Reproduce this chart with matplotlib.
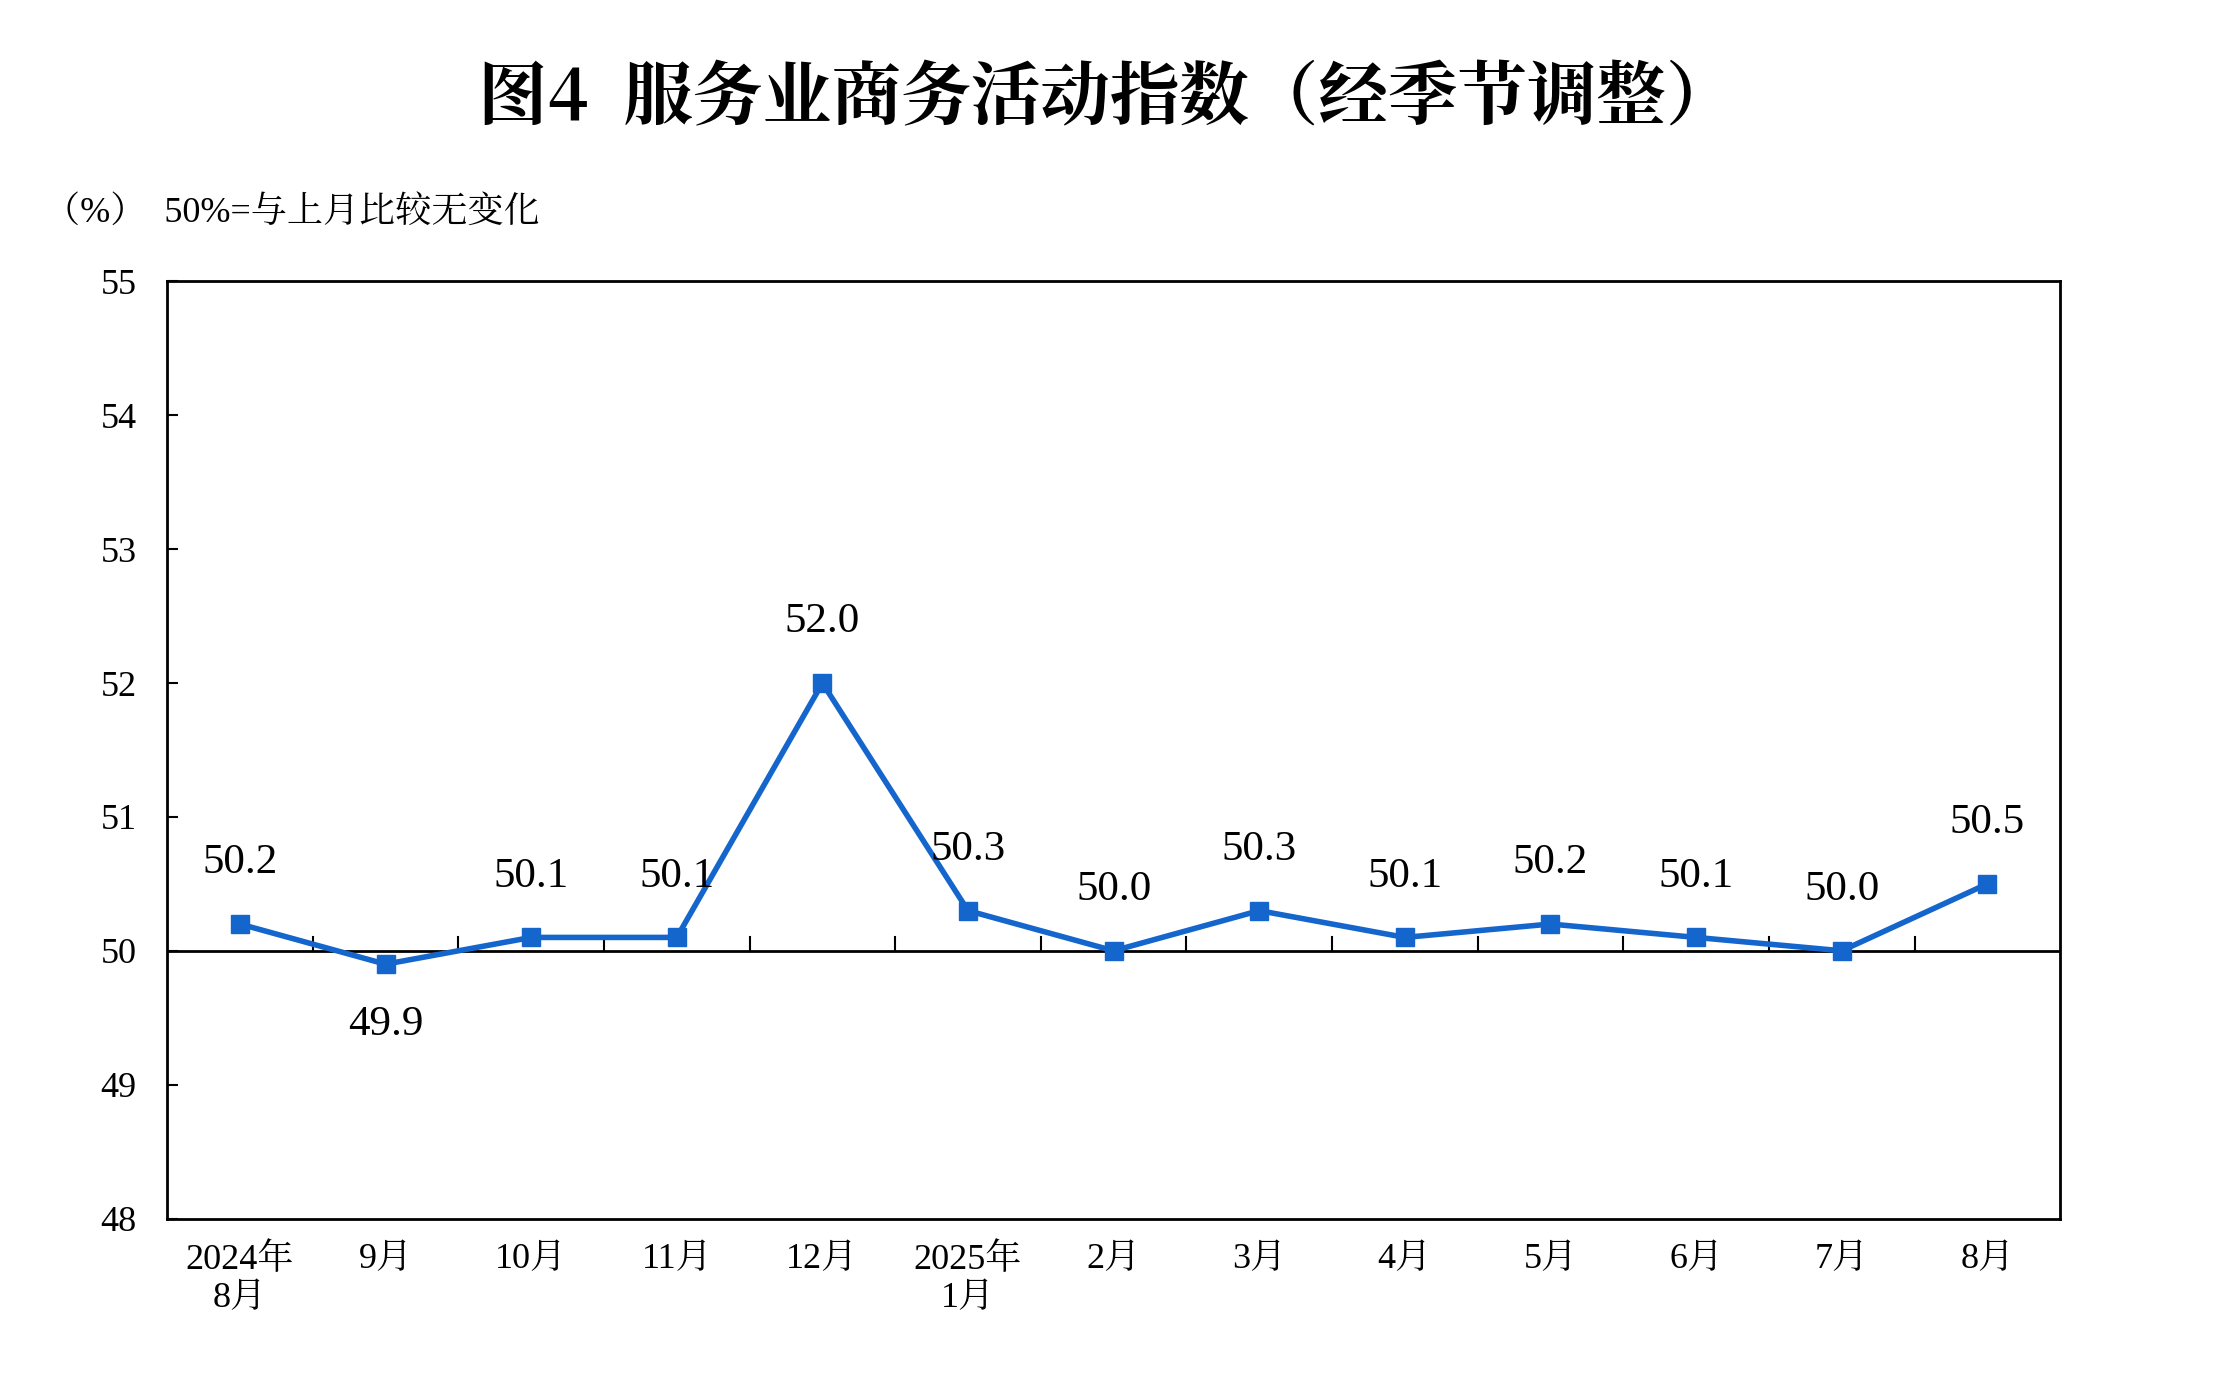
import matplotlib
matplotlib.use("Agg")
import matplotlib.pyplot as plt
from matplotlib import font_manager
import numpy as np

months = ["2024年\n8月", "9月", "10月", "11月", "12月", "2025年\n1月", "2月",
          "3月", "4月", "5月", "6月", "7月", "8月"]
values = [50.2, 49.9, 50.1, 50.1, 52.0, 50.3, 50.0, 50.3, 50.1, 50.2, 50.1, 50.0, 50.5]
yticks = [48, 49, 50, 51, 52, 53, 54, 55]

# locate an installed CJK font by file, since the family name may differ
cjk_name = "Noto Sans CJK SC"
for f in font_manager.findSystemFonts():
    if "CJK" in f or "cjk" in f.lower():
        try:
            font_manager.fontManager.addfont(f)
            cjk_name = font_manager.FontProperties(fname=f).get_name()
            break
        except Exception:
            pass

CJK = [cjk_name]
SERIF = ["Liberation Serif", cjk_name]
BLUE = "#1566CC"

fig = plt.figure(figsize=(22.14, 13.73), dpi=100)
ax = fig.add_axes([0.0755, 0.1125, 0.855, 0.6825])

x = np.arange(len(values))
ax.plot(x, values, color=BLUE, linewidth=4, marker="s", markersize=13, zorder=3)
ax.axhline(50, color="black", linewidth=2, zorder=2)

for xi, v in zip(x, values):
    if v < 50:
        ax.annotate(f"{v:.1f}", (xi, v), xytext=(0, -30), textcoords="offset points",
                    ha="center", va="top", fontsize=31, family=SERIF)
    else:
        ax.annotate(f"{v:.1f}", (xi, v), xytext=(0, 30), textcoords="offset points",
                    ha="center", va="bottom", fontsize=31, family=SERIF)

# category boundary ticks on the 50 line
for b in np.arange(0.5, len(values) - 0.5, 1.0):
    ax.plot([b, b], [50, 50.1], color="black", linewidth=1.5, zorder=2)

ax.set_xlim(-0.5, len(values) - 0.5)
ax.set_ylim(48, 55)
ax.set_yticks(yticks)
ax.set_yticklabels([str(t) for t in yticks], fontsize=26, family=SERIF)
ax.set_xticks(x)
ax.set_xticklabels(months, fontsize=26, family=SERIF, linespacing=1.2)
ax.tick_params(axis="x", length=0, pad=18)
ax.tick_params(axis="y", direction="in", length=8, width=1.5, pad=22)
for s in ax.spines.values():
    s.set_linewidth(2)

fig.text(0.5, 0.927, "图4  服务业商务活动指数（经季节调整）", ha="center", va="center",
         fontsize=50, family=CJK, fontweight="bold")
fig.text(0.02, 0.845, "（%）  50%=与上月比较无变化", ha="left", va="center",
         fontsize=26, family=SERIF)

fig.savefig("out.png", dpi=100, facecolor="white")
